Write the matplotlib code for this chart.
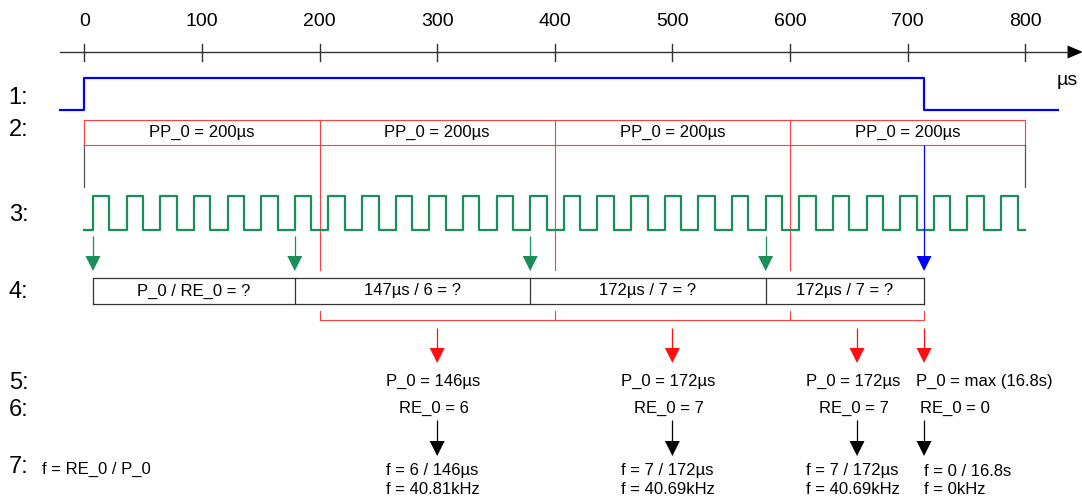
import matplotlib
matplotlib.use("Agg")
import matplotlib.pyplot as plt

plt.rcParams['font.family'] = ['Liberation Sans', 'DejaVu Sans']

# ---------------- data ----------------
tick_values = [0, 100, 200, 300, 400, 500, 600, 700, 800]
enable_on = 0          # µs
enable_off = 714       # µs
pp_bounds = [0, 200, 400, 600, 800]
pp_labels = ["PP_0 = 200µs", "PP_0 = 200µs", "PP_0 = 200µs", "PP_0 = 200µs"]
pulse_rises = [7.3, 35.9, 64.5, 93.1, 121.7, 150.3, 178.9, 207.5, 236.1, 264.7,
               293.3, 321.9, 350.5, 379.1, 407.7, 436.3, 464.9, 493.5, 522.1,
               550.7, 579.3, 607.9, 636.5, 665.1, 693.7, 722.3, 750.9, 779.5]
pulse_high = 14.0
capture_edges = [7.3, 178.9, 379.1, 579.3]
box_labels = ["P_0 / RE_0 = ?", "147µs / 6 = ?", "172µs / 7 = ?", "172µs / 7 = ?"]
bracket_marks = [200, 400, 600, 714]
result_x = [300, 500, 657, 714]
p0_labels = ["P_0 = 146µs", "P_0 = 172µs", "P_0 = 172µs", "P_0 = max (16.8s)"]
re0_labels = ["RE_0 = 6", "RE_0 = 7", "RE_0 = 7", "RE_0 = 0"]
fcalc_labels = ["f = 6 / 146µs", "f = 7 / 172µs", "f = 7 / 172µs", "f = 0 / 16.8s"]
f_labels = ["f = 40.81kHz", "f = 40.69kHz", "f = 40.69kHz", "f = 0kHz"]
row_labels = ["1:", "2:", "3:", "4:", "5:", "6:", "7:"]
row_label_y = [98, 130, 215, 292, 383, 410, 467]

# ---------------- layout ----------------
W, H = 1082, 499
fig = plt.figure(figsize=(W / 100, H / 100), dpi=100)
ax = fig.add_axes([0, 0, 1, 1])
X0 = 84.4      # pixel of 0 µs
S = 1.176      # pixels per µs
ax.set_xlim(-X0 / S, (W - X0) / S)
ax.set_ylim(H, 0)
ax.axis('off')
PX = 1 / S     # one pixel in µs

BLUE = '#0000ff'
RED = '#ff4040'
RED_HEAD = '#ff1010'
GREEN = '#1a8f5a'
DARK = '#333333'
FS = 12

def arrow_down(x, y0, y1, color, head=15, hw=7.5, lw=0.9):
    ax.plot([x, x], [y0, y1 - head], color=color, lw=lw, solid_capstyle='butt')
    ax.fill([x - hw * PX, x + hw * PX, x], [y1 - head, y1 - head, y1], color=color, lw=0)

# time axis
ax.plot([-21, 836], [52, 52], color=DARK, lw=1.0)
ax.fill([836, 836, 849], [45.5, 58.5, 52], color='black', lw=0)
for t in tick_values:
    ax.plot([t, t], [44, 61], color=DARK, lw=1.0)
    ax.text(t, 21, str(t), ha='center', va='center', fontsize=14, color='black')
ax.text(836, 80, "µs", ha='center', va='center', fontsize=14)

# 1: enable signal
ax.plot([-21, enable_on, enable_on, enable_off, enable_off, 828],
        [110, 110, 78, 78, 110, 110], color=BLUE, lw=1.6)

# 2: period boxes
ax.plot([pp_bounds[0], pp_bounds[-1]], [120, 120], color=RED, lw=0.8)
ax.plot([pp_bounds[0], pp_bounds[-1]], [145, 145], color=RED, lw=0.8)
for i, b in enumerate(pp_bounds):
    if i in (0, len(pp_bounds) - 1):
        ax.plot([b, b], [120, 145], color=RED, lw=0.8)
        ax.plot([b, b], [145, 187], color='#555555', lw=0.9)
    else:
        ax.plot([b, b], [120, 270], color=RED, lw=0.8)
for a, b, lab in zip(pp_bounds[:-1], pp_bounds[1:], pp_labels):
    ax.text((a + b) / 2, 132, lab, ha='center', va='center', fontsize=FS)

# 3: pulse train
xs, ys = [0], [230]
for r in pulse_rises:
    xs += [r, r, r + pulse_high, r + pulse_high]
    ys += [230, 196, 196, 230]
xs.append(pp_bounds[-1]); ys.append(230)
ax.plot(xs, ys, color=GREEN, lw=1.6)

# capture arrows
for e in capture_edges:
    arrow_down(e, 236, 271, GREEN)
arrow_down(enable_off, 145, 271, BLUE)

# 4: measurement boxes
box_edges = capture_edges + [enable_off]
ax.plot([box_edges[0], box_edges[-1]], [278, 278], color=DARK, lw=0.9)
ax.plot([box_edges[0], box_edges[-1]], [304, 304], color=DARK, lw=0.9)
for e in box_edges:
    ax.plot([e, e], [278, 304], color=DARK, lw=0.9)
for a, b, lab in zip(box_edges[:-1], box_edges[1:], box_labels):
    ax.text((a + b) / 2, 291, lab, ha='center', va='center', fontsize=FS)

# red bracket
ax.plot([bracket_marks[0], bracket_marks[-1]], [320, 320], color=RED, lw=0.8)
for m in bracket_marks:
    ax.plot([m, m], [311, 320], color=RED, lw=0.8)

# 5-7: results
for x, p0, re0, fc, f in zip(result_x, p0_labels, re0_labels, fcalc_labels, f_labels):
    arrow_down(x, 328, 363, RED_HEAD)
    arrow_down(x, 420, 456, 'black')
    if x == result_x[-1]:
        ax.text(x - 8 * PX, 381, p0, ha='left', va='center', fontsize=FS)
        ax.text(x - 4 * PX, 408, re0, ha='left', va='center', fontsize=FS)
        ax.text(x + 0 * PX, 471, fc, ha='left', va='center', fontsize=FS)
        ax.text(x + 0 * PX, 489, f, ha='left', va='center', fontsize=FS)
    else:
        ax.text(x - 51 * PX, 381, p0, ha='left', va='center', fontsize=FS)
        ax.text(x - 3 * PX, 408, re0, ha='center', va='center', fontsize=FS)
        ax.text(x - 51 * PX, 471, fc, ha='left', va='center', fontsize=FS)
        ax.text(x - 51 * PX, 489, f, ha='left', va='center', fontsize=FS)

ax.text(-72 + 42 * PX, 469, "f = RE_0 / P_0", ha='left', va='center', fontsize=FS)

# row labels
for lab, y in zip(row_labels, row_label_y):
    ax.text(-72 + 9 * PX, y, lab, ha='left', va='center', fontsize=17)

fig.savefig("out.png", dpi=100)
